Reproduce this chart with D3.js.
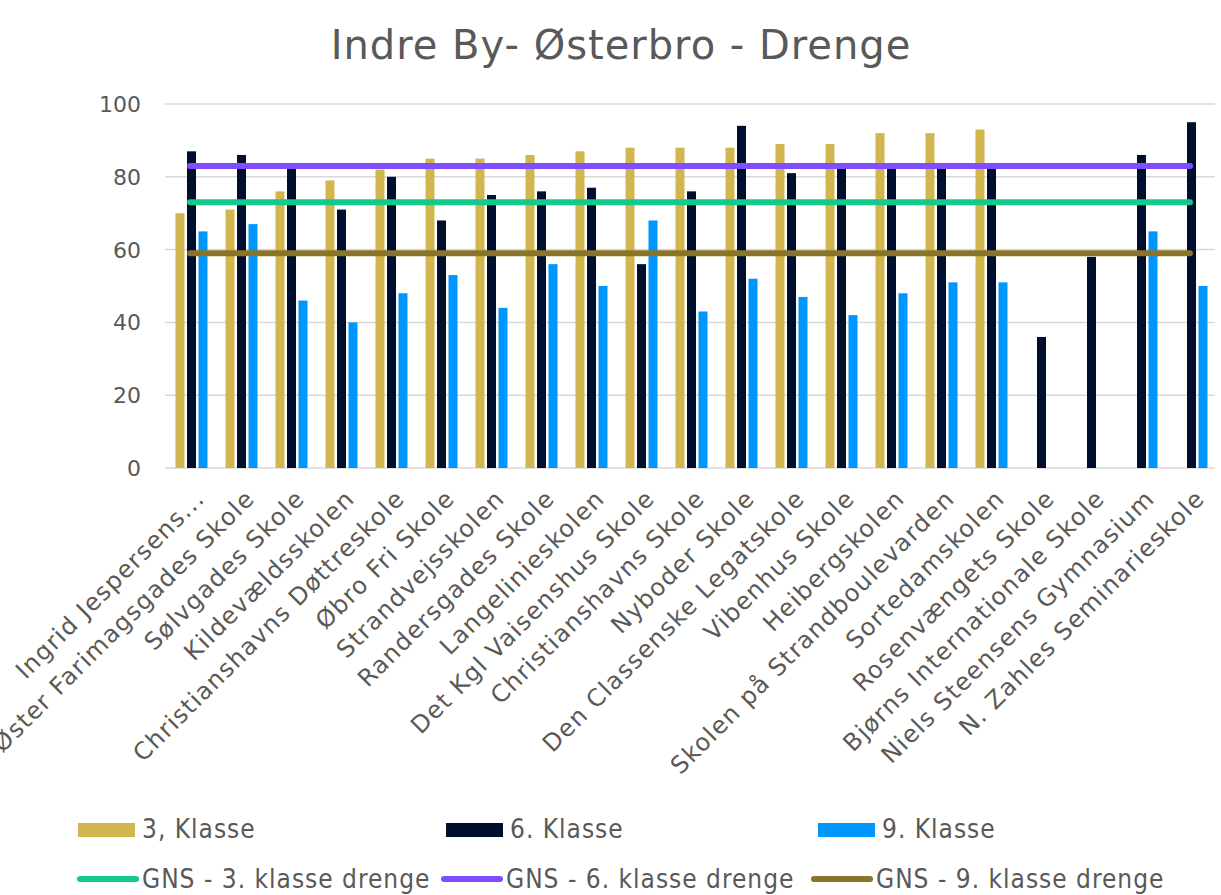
<!DOCTYPE html>
<html>
<head>
<meta charset="utf-8">
<script src="https://cdn.jsdelivr.net/npm/d3@7"></script>
<style>
  body { margin: 0; background: #fff; }
  svg { display: block; }
</style>
</head>
<body>
<div id="chart"></div>
<script>
// Schools (x categories)
var schools = [
  "Ingrid Jespersens...", "Øster Farimagsgades Skole", "Sølvgades Skole", "Kildevældsskolen",
  "Christianshavns Døttreskole", "Øbro Fri Skole", "Strandvejsskolen", "Randersgades Skole",
  "Langelinieskolen", "Det Kgl Vaisenshus Skole", "Christianshavns Skole", "Nyboder Skole",
  "Den Classenske Legatskole", "Vibenhus Skole", "Heibergskolen", "Skolen på Strandboulevarden",
  "Sortedamskolen", "Rosenvængets Skole", "Bjørns Internationale Skole", "Niels Steensens Gymnasium",
  "N. Zahles Seminarieskole"
];
// bar series
var klasse3 = [70, 71, 76, 79, 82, 85, 85, 86, 87, 88, 88, 88, 89, 89, 92, 92, 93, null, null, null, null];
var klasse6 = [87, 86, 83, 71, 80, 68, 75, 76, 77, 56, 76, 94, 81, 83, 83, 83, 83, 36, 58, 86, 95];
var klasse9 = [65, 67, 46, 40, 48, 53, 44, 56, 50, 68, 43, 52, 47, 42, 48, 51, 51, null, null, 65, 50];
// average lines
var gns3 = 73, gns6 = 83, gns9 = 59;
var yTicks = [0, 20, 40, 60, 80, 100];

var seriesNames = ["3, Klasse", "6. Klasse", "9. Klasse"];
var seriesColors = ["#D1B650", "#000F2E", "#0096FF"];
var lineNames = ["GNS - 3. klasse drenge", "GNS - 6. klasse drenge", "GNS - 9. klasse drenge"];
var lineColors = ["#14C98C", "#7F4DFF", "#8A742A"];

var width = 1221, height = 895;
var plotLeft = 165, plotRight = 1215, plotTop = 104, plotBottom = 468;
var textColor = "#595959";
var mainFont = "'DejaVu Sans', sans-serif";
var legendFont = "'Liberation Sans Narrow', 'DejaVu Sans Condensed', sans-serif";

var svg = d3.select("#chart").append("svg")
  .attr("width", width)
  .attr("height", height);

// title
svg.append("text")
  .attr("x", 621).attr("y", 59)
  .attr("text-anchor", "middle")
  .attr("font-family", mainFont)
  .attr("font-size", 40)
  .attr("letter-spacing", 1)
  .attr("fill", textColor)
  .text("Indre By- Østerbro - Drenge");

var x = d3.scaleBand().domain(schools).range([plotLeft, plotRight]).padding(0);
var xSub = d3.scaleBand().domain([0, 1, 2]).range([10.5, 42.5]).paddingInner(0.217);
var y = d3.scaleLinear().domain([0, 100]).range([plotBottom, plotTop]);

// gridlines
svg.append("g").selectAll("line")
  .data(yTicks)
  .enter().append("line")
  .attr("x1", plotLeft).attr("x2", plotRight)
  .attr("y1", function(d) { return y(d); })
  .attr("y2", function(d) { return y(d); })
  .attr("stroke", "#D9D9D9")
  .attr("stroke-width", 1.5);

// y labels
svg.append("g").selectAll("text")
  .data(yTicks)
  .enter().append("text")
  .attr("x", 141)
  .attr("y", function(d) { return y(d); })
  .attr("dy", "0.36em")
  .attr("text-anchor", "end")
  .attr("font-family", mainFont)
  .attr("font-size", 22)
  .attr("fill", textColor)
  .text(function(d) { return d; });

// bars
var allSeries = [klasse3, klasse6, klasse9];
var groups = svg.append("g").selectAll("g")
  .data(schools)
  .enter().append("g")
  .attr("transform", function(d) { return "translate(" + x(d) + ",0)"; });

groups.selectAll("rect")
  .data(function(d, i) {
    return allSeries.map(function(s, k) { return { k: k, v: s[i] }; })
      .filter(function(e) { return e.v != null; });
  })
  .enter().append("rect")
  .attr("x", function(d) { return xSub(d.k); })
  .attr("width", xSub.bandwidth())
  .attr("y", function(d) { return y(d.v); })
  .attr("height", function(d) { return y(0) - y(d.v); })
  .attr("fill", function(d) { return seriesColors[d.k]; });

// average lines
var avgs = [gns3, gns6, gns9];
var x0 = x(schools[0]) + x.bandwidth() / 2;
var x1 = x(schools[schools.length - 1]) + x.bandwidth() / 2;
svg.append("g").selectAll("line")
  .data(avgs)
  .enter().append("line")
  .attr("x1", x0).attr("x2", x1)
  .attr("y1", function(d) { return y(d); })
  .attr("y2", function(d) { return y(d); })
  .attr("stroke", function(d, i) { return lineColors[i]; })
  .attr("stroke-width", 6)
  .attr("stroke-linecap", "round");

// x labels, rotated
svg.append("g").selectAll("text")
  .data(schools)
  .enter().append("text")
  .attr("transform", function(d) {
    return "translate(" + (x(d) + x.bandwidth() / 2 + 16) + "," + (plotBottom + 32) + ") rotate(-45)";
  })
  .attr("text-anchor", "end")
  .attr("font-family", mainFont)
  .attr("font-size", 24)
  .attr("letter-spacing", 1.3)
  .attr("fill", textColor)
  .text(function(d) { return d; });

// legend
var legendX = [78, 446, 818];
var leg1 = svg.append("g");
leg1.selectAll("rect")
  .data(seriesNames)
  .enter().append("rect")
  .attr("x", function(d, i) { return legendX[i]; })
  .attr("y", 823)
  .attr("width", 57).attr("height", 14)
  .attr("fill", function(d, i) { return seriesColors[i]; });
leg1.selectAll("text")
  .data(seriesNames)
  .enter().append("text")
  .attr("x", function(d, i) { return legendX[i] + 64; })
  .attr("y", 838)
  .attr("font-family", legendFont)
  .attr("font-size", 26)
  .attr("letter-spacing", 1)
  .attr("fill", textColor)
  .text(function(d) { return d; });

var legendX2 = [78, 442, 812];
var leg2 = svg.append("g");
leg2.selectAll("line")
  .data(lineNames)
  .enter().append("line")
  .attr("x1", function(d, i) { return legendX2[i] + 2; })
  .attr("x2", function(d, i) { return legendX2[i] + 58; })
  .attr("y1", 879).attr("y2", 879)
  .attr("stroke", function(d, i) { return lineColors[i]; })
  .attr("stroke-width", 6)
  .attr("stroke-linecap", "round");
leg2.selectAll("text")
  .data(lineNames)
  .enter().append("text")
  .attr("x", function(d, i) { return legendX2[i] + 64; })
  .attr("y", 888)
  .attr("font-family", legendFont)
  .attr("font-size", 26)
  .attr("letter-spacing", 1)
  .attr("fill", textColor)
  .text(function(d) { return d; });
</script>
</body>
</html>
